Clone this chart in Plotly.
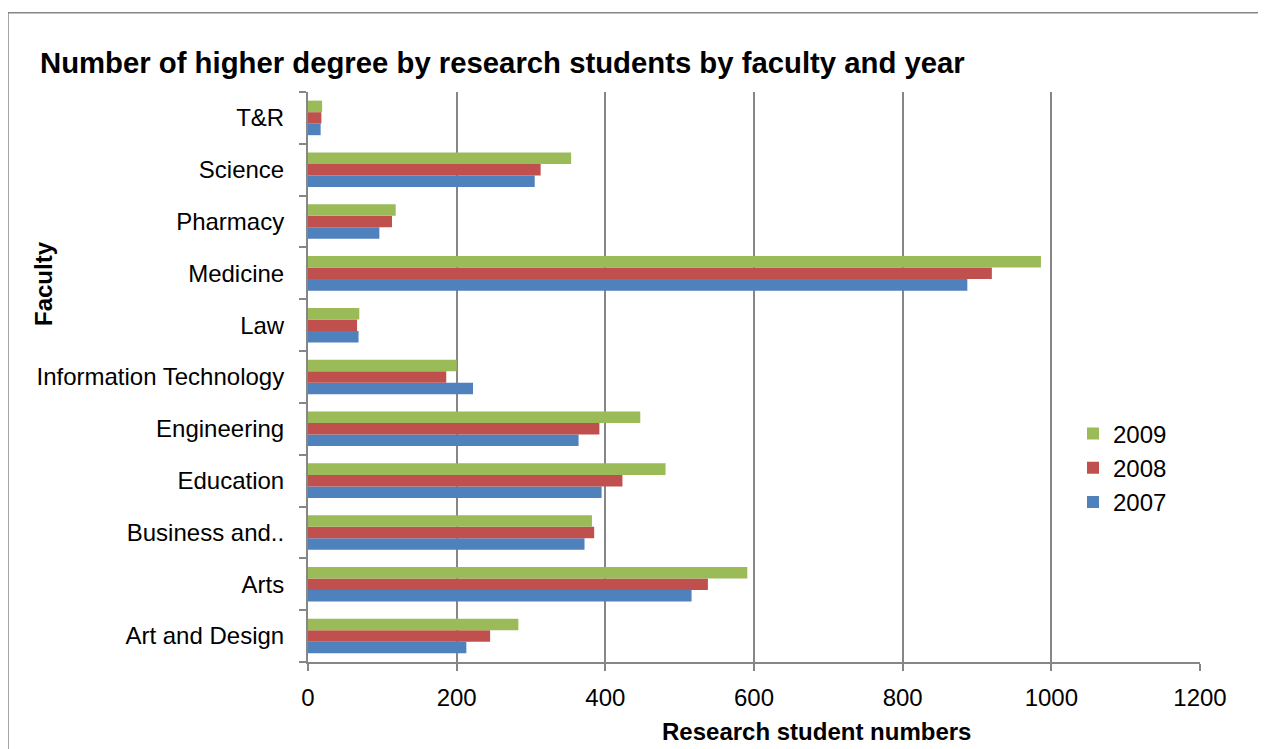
import plotly.graph_objects as go

faculties = ["Art and Design", "Arts", "Business and..", "Education", "Engineering",
             "Information Technology", "Law", "Medicine", "Pharmacy", "Science", "T&R"]
y2007 = [213, 516, 372, 395, 364, 222, 68, 887, 96, 305, 17]
y2008 = [245, 538, 385, 423, 392, 186, 66, 920, 113, 313, 18]
y2009 = [283, 591, 382, 481, 447, 200, 69, 986, 118, 354, 19]
years = ["2007", "2008", "2009"]
colors = ["#4F81BD", "#C0504D", "#9BBB59"]
x_ticks = [0, 200, 400, 600, 800, 1000, 1200]

# page body has an 8px margin; work in reference pixel coordinates and shift
OFF = 8
W, H = 1266 - OFF, 749 - OFF
L, R, T, B = 308 - OFF, 66, 92 - OFF, 87
pw, ph = W - L - R, H - T - B

def px(x):
    return (x - OFF - L) / pw

def py(y):
    return (H - B - (y - OFF)) / ph

fig = go.Figure()
for yr, vals, col in zip(years, [y2007, y2008, y2009], colors):
    fig.add_trace(go.Bar(y=faculties, x=vals, name=yr, orientation="h",
                         marker=dict(color=col, line=dict(width=0))))

FONT = "Liberation Sans, Arial, sans-serif"
GRAY = "#868686"
fig.update_layout(
    width=W, height=H,
    margin=dict(l=L, r=R, t=T, b=B),
    paper_bgcolor="white", plot_bgcolor="white",
    font=dict(family=FONT, color="black", size=24),
    barmode="group", bargap=0.333, bargroupgap=0,
    showlegend=True,
    legend=dict(x=px(1073), y=py(468), xanchor="left", yanchor="middle",
                traceorder="reversed", font=dict(size=24),
                bgcolor="rgba(0,0,0,0)"),
    xaxis=dict(range=[0, 1200], tickvals=x_ticks, showgrid=True, gridcolor=GRAY,
               gridwidth=2, showline=True, linecolor=GRAY, linewidth=2,
               ticks="outside", ticklen=7, tickcolor=GRAY, tickwidth=2,
               ticklabelstandoff=6, zeroline=False,
               tickfont=dict(size=24)),
    yaxis=dict(showgrid=False, showline=True, linecolor=GRAY, linewidth=2,
               ticks="outside", ticklen=7, tickcolor=GRAY, tickwidth=2,
               tickson="boundaries", ticklabelstandoff=17,
               tickfont=dict(size=24)),
    shapes=[dict(type="rect", xref="paper", yref="paper",
                 x0=px(8), x1=px(1300), y0=py(12.7), y1=py(800),
                 line=dict(color=GRAY, width=1.5), fillcolor="rgba(0,0,0,0)",
                 layer="below")],
    annotations=[
        dict(text="<b>Number of higher degree by research students by faculty and year</b>",
             xref="paper", yref="paper", x=px(38), y=py(62), xanchor="left",
             yanchor="middle", showarrow=False, font=dict(size=29.3)),
        dict(text="<b>Research student numbers</b>", xref="paper", yref="paper",
             x=px(816.5), y=py(731), xanchor="center", yanchor="middle",
             showarrow=False, font=dict(size=24)),
        dict(text="<b>Faculty</b>", xref="paper", yref="paper", textangle=-90,
             x=px(43), y=py(284), xanchor="center", yanchor="middle",
             showarrow=False, font=dict(size=24)),
    ],
)

fig.write_html("out.html")
